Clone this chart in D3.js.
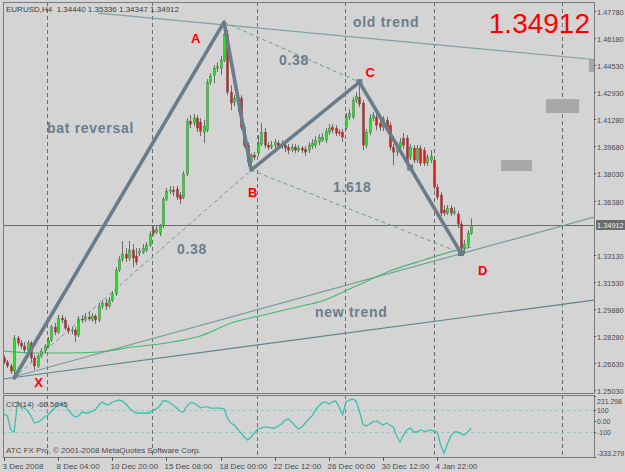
<!DOCTYPE html>
<html><head><meta charset="utf-8">
<script src="https://cdn.jsdelivr.net/npm/d3@7"></script>
<style>
html,body{margin:0;padding:0;background:#d4d4d4;}
svg{display:block;font-family:"Liberation Sans",Arial,sans-serif;}
</style></head><body>
<svg id="chart" width="625" height="472"></svg>
<script>
// ---------------- DATA ----------------
const headerText = "EURUSD,H4  1.34440 1.35336 1.34347 1.34912";
const lastPrice = 1.34912;
const cciLabel = "CCI(14) -66.5645";
const copyrightText = "ATC FX Pro, \u00A9 2001-2008 MetaQuotes Software Corp.";

const opens = [1.2695,1.2671,1.2647,1.2617,1.2815,1.2785,1.2767,1.2743,1.2785,1.2695,
1.2647,1.2707,1.2737,1.2767,1.2803,1.2881,1.2851,1.2935,1.2923,1.2875,
1.2857,1.2863,1.2833,1.2929,1.2923,1.2941,1.2929,1.2947,1.2923,1.3007,
1.3025,1.3007,1.3043,1.3079,1.3223,1.3289,1.3319,1.3295,1.3343,1.3307,
1.3325,1.3331,1.3343,1.3373,1.3463,1.3451,1.3445,1.3487,1.3649,1.3697,
1.3703,1.3709,1.3673,1.3661,1.3799,1.4117,1.4105,1.4135,1.4111,1.4051,
1.4063,1.4351,1.4393,1.4435,1.4435,1.4483,1.4639,1.4291,1.4231,1.4243,
1.4255,1.4081,1.3973,1.3871,1.3913,1.3925,1.3979,1.4051,1.3973,1.3961,
1.3973,1.3985,1.3967,1.3973,1.3961,1.3943,1.3961,1.3943,1.3955,1.3949,
1.3943,1.3967,1.3973,1.3991,1.4003,1.4003,1.4051,1.4081,1.4075,1.4051,
1.4051,1.4081,1.4141,1.4141,1.4243,1.4261,1.4225,1.3973,1.4051,1.4135,
1.4141,1.4105,1.4081,1.4123,1.4093,1.3961,1.3931,1.3961,1.4015,1.4015,
1.3901,1.3955,1.3883,1.3955,1.3943,1.3865,1.3883,1.3883,1.3721,1.3673,
1.3583,1.3565,1.3595,1.3565,1.3559,1.3499,1.3355,1.3373,1.34440];
const highs = [1.2713,1.2683,1.2659,1.2833,1.2827,1.2803,1.2791,1.2803,1.2797,1.2713,
1.2719,1.2755,1.2779,1.2821,1.2893,1.2905,1.2953,1.2953,1.2941,1.2893,
1.2881,1.2881,1.2947,1.2953,1.2965,1.2971,1.2965,1.2959,1.3025,1.3043,
1.3049,1.3061,1.3097,1.3241,1.3307,1.3397,1.3355,1.3397,1.3379,1.3355,
1.3355,1.3379,1.3391,1.3457,1.3487,1.3493,1.3499,1.3661,1.3715,1.3727,
1.3727,1.3727,1.3691,1.3817,1.4135,1.4153,1.4159,1.4153,1.4135,1.4123,
1.4369,1.4405,1.4453,1.4471,1.4507,1.4711,1.4663,1.4333,1.4273,1.4285,
1.4273,1.4099,1.3991,1.3925,1.3931,1.4033,1.4105,1.4075,1.3991,1.3997,
1.4009,1.4003,1.4003,1.3997,1.3979,1.3979,1.3979,1.3973,1.3967,1.3967,
1.3991,1.4009,1.4027,1.4039,1.4045,1.4075,1.4099,1.4099,1.4093,1.4069,
1.4069,1.4165,1.4189,1.4261,1.4291,1.4351,1.4243,1.4069,1.4159,1.4171,
1.4165,1.4123,1.4147,1.4141,1.4111,1.3979,1.3991,1.4015,1.4045,1.4033,
1.3979,1.3973,1.3973,1.3973,1.3961,1.3919,1.3943,1.3901,1.3739,1.3691,
1.3613,1.3613,1.3613,1.3601,1.3577,1.3517,1.3403,1.3463,1.35336];
const lows = [1.2659,1.2635,1.2599,1.2575,1.2767,1.2749,1.2725,1.2731,1.2671,1.2623,
1.2635,1.2695,1.2725,1.2755,1.2791,1.2833,1.2839,1.2905,1.2863,1.2839,
1.2839,1.2791,1.2821,1.2905,1.2911,1.2917,1.2911,1.2899,1.2911,1.2989,
1.2983,1.2995,1.3031,1.3067,1.3211,1.3271,1.3271,1.3277,1.3241,1.3253,
1.3307,1.3319,1.3331,1.3361,1.3427,1.3439,1.3427,1.3475,1.3637,1.3679,
1.3667,1.3643,1.3619,1.3649,1.3787,1.4075,1.4087,1.4051,1.4027,1.3985,
1.4051,1.4333,1.4345,1.4411,1.4393,1.4471,1.4273,1.4183,1.4207,1.4171,
1.4063,1.3955,1.3847,1.3823,1.3883,1.3907,1.3967,1.3955,1.3943,1.3949,
1.3955,1.3949,1.3949,1.3931,1.3919,1.3931,1.3925,1.3931,1.3925,1.3907,
1.3925,1.3949,1.3955,1.3973,1.3991,1.3985,1.4033,1.4045,1.4027,1.4027,
1.3991,1.4063,1.4123,1.4129,1.4225,1.4201,1.3943,1.3955,1.4033,1.4117,
1.4063,1.4057,1.4057,1.4051,1.3943,1.3853,1.3907,1.3943,1.3949,1.3847,
1.3883,1.3865,1.3865,1.3847,1.3847,1.3847,1.3865,1.3703,1.3643,1.3547,
1.3547,1.3553,1.3547,1.3553,1.3475,1.3319,1.3319,1.3355,1.34347];
const closes = [1.2671,1.2647,1.2617,1.2815,1.2785,1.2767,1.2743,1.2785,1.2695,1.2647,
1.2707,1.2737,1.2767,1.2803,1.2881,1.2851,1.2935,1.2923,1.2875,1.2857,
1.2863,1.2833,1.2929,1.2923,1.2941,1.2929,1.2947,1.2923,1.3007,1.3025,
1.3007,1.3043,1.3079,1.3223,1.3289,1.3319,1.3295,1.3343,1.3295,1.3271,
1.3337,1.3355,1.3373,1.3439,1.3445,1.3469,1.3487,1.3649,1.3697,1.3703,
1.3691,1.3661,1.3649,1.3799,1.4117,1.4099,1.4135,1.4075,1.4057,1.4087,
1.4351,1.4387,1.4435,1.4447,1.4483,1.4639,1.4291,1.4225,1.4255,1.4261,
1.4081,1.3973,1.3871,1.3913,1.3901,1.3985,1.4051,1.3973,1.3961,1.3973,
1.3991,1.3967,1.3985,1.3955,1.3943,1.3961,1.3943,1.3955,1.3943,1.3931,
1.3973,1.3985,1.4003,1.4021,1.4021,1.4057,1.4075,1.4063,1.4045,1.4045,
1.4021,1.4141,1.4165,1.4243,1.4267,1.4219,1.3973,1.4051,1.4135,1.4153,
1.4093,1.4081,1.4129,1.4075,1.3961,1.3931,1.3973,1.3991,1.3973,1.3865,
1.3961,1.3883,1.3955,1.3865,1.3865,1.3901,1.3907,1.3721,1.3661,1.3565,
1.3565,1.3595,1.3565,1.3577,1.3499,1.3355,1.3379,1.3445,1.34912];

const cciValues = [65,46,-83,-102,176,148,120,92,46,-19,
-9,9,37,55,92,120,167,157,148,102,
65,37,46,83,74,74,92,102,148,176,
157,148,176,185,194,185,157,120,92,74,
74,74,74,74,102,111,139,185,185,167,
148,120,92,83,139,167,167,148,120,130,
130,120,120,120,120,111,28,-19,-37,-74,
-111,-148,-176,-148,-111,-74,-65,-56,-56,-65,
-65,-46,-28,9,18,-9,-46,-74,-56,-19,
18,46,102,139,167,176,157,176,185,130,
55,176,194,203,185,92,-28,-46,-28,-9,
0,-19,-37,-19,-37,-56,-139,-194,-130,-83,
-65,-102,-102,-83,-93,-93,-83,-93,-102,-222,
-296,-213,-139,-102,-102,-120,-130,-102,-66.5645];

// moving average (sparse read-off points: bar index, price)
const maBars   = [0,9,19,28,38,48,58,68,74,88,94,104,114,124,134,138];
const maPrices = [1.2737,1.2725,1.2725,1.2731,1.2761,1.2785,1.2827,1.2911,1.2941,1.3007,1.3037,1.3127,1.3217,1.3283,1.3343,1.3361];

// harmonic pattern anchors
const patternNames  = ["X","A","B","C","D"];
const patternBars   = [3,65,73,105,135];
const patternPrices = [1.2575,1.4711,1.3823,1.4351,1.3325];

// trend lines (bar, price) pairs
const trendNames = ["old","newUpper","newLower"];
const trendBars  = [[27.8,174.3],[2.7,174.3],[-0.3,174.3]];
const trendPrices= [[1.4765,1.4487],[1.2581,1.3541],[1.2569,1.3043]];

// rectangle objects (bar range, price range)
const rectBars   = [[160.1,169.9],[146.8,156.0],[172.8,176.0]];
const rectPrices = [[1.4249,1.4165],[1.3883,1.3817],[1.4489,1.4411]];

// axes
const priceTicks = [1.47780,1.46180,1.44530,1.42930,1.41280,1.39680,1.38030,1.36380,1.33130,1.31530,1.29880,1.28280,1.26630,1.25030];
const cciTicks = [231.298,100,0,-100,-333.279];
const cciTickLabels = ["231.298","100","0.00","-100","-333.279"];
const timeBars = [0,16,32,48,64,80,96,112,128];
const timeLabels = ["3 Dec 2008","8 Dec 04:00","10 Dec 20:00","15 Dec 08:00","18 Dec 00:00","22 Dec 12:00","26 Dec 00:00","30 Dec 12:00","4 Jan 22:00"];
const gridBars = [12.7,43.7,74.7,100.7,127.0,164.8];

// ---------------- DRAW ----------------
const svg = d3.select("#chart");
const L = 3, R = 594, T = 2, B = 393, CT = 395, CB = 457;
const x = d3.scaleLinear().domain([0,174.3]).range([4,594]);
const y = d3.scaleLinear().domain([1.2503,1.4778]).range([390,11]);
const yc = d3.scaleLinear().domain([-333.279,231.298]).range([457,396]);

svg.append("rect").attr("width",625).attr("height",472).attr("fill","#d4d4d4");

const defs = svg.append("defs");
defs.append("clipPath").attr("id","mainClip").append("rect").attr("x",L).attr("y",T).attr("width",R-L).attr("height",B-T);
defs.append("clipPath").attr("id","cciClip").append("rect").attr("x",L).attr("y",CT).attr("width",R-L).attr("height",CB-CT);

const main = svg.append("g").attr("clip-path","url(#mainClip)");
const cci = svg.append("g").attr("clip-path","url(#cciClip)");

// grid
[[main,T,B],[cci,CT,CB]].forEach(([g,t,b])=>{
  g.selectAll(null).data(gridBars).enter().append("line")
    .attr("x1",d=>Math.round(x(d))+0.5).attr("x2",d=>Math.round(x(d))+0.5)
    .attr("y1",t).attr("y2",b).attr("stroke","#6e6e6e").attr("stroke-width",1)
    .attr("stroke-dasharray","4,3");
});

// rectangles
main.selectAll(null).data(rectBars).enter().append("rect")
  .attr("x",(d)=>x(d[0])).attr("width",d=>x(d[1])-x(d[0]))
  .attr("y",(d,i)=>y(rectPrices[i][0])).attr("height",(d,i)=>y(rectPrices[i][1])-y(rectPrices[i][0]))
  .attr("fill","#a8a8a8");

// current price line
main.append("line").attr("x1",L).attr("x2",R).attr("y1",Math.round(y(lastPrice))+0.5).attr("y2",Math.round(y(lastPrice))+0.5)
  .attr("stroke","#6a6a6a").attr("stroke-width",1);

// trend lines
const trendColors = ["#7fa2a2","#7a9c9c","#5e8686"];
trendBars.forEach((tb,i)=>{
  main.append("line").attr("x1",x(tb[0])).attr("y1",y(trendPrices[i][0]))
    .attr("x2",x(tb[1])).attr("y2",y(trendPrices[i][1]))
    .attr("stroke",trendColors[i]).attr("stroke-width",1.2);
});

// moving average
main.append("path").datum(maBars.map((b,i)=>[b,maPrices[i]]))
  .attr("d",d3.line().x(d=>x(d[0])).y(d=>y(d[1])).curve(d3.curveMonotoneX))
  .attr("fill","none").attr("stroke","#43b86a").attr("stroke-width",1.1);

// dashed fib lines X->B, A->C, B->D
const pt = i=>[x(patternBars[i]),y(patternPrices[i])];
[[0,2],[1,3],[2,4]].forEach(([a,b])=>{
  main.append("line").attr("x1",pt(a)[0]).attr("y1",pt(a)[1]).attr("x2",pt(b)[0]).attr("y2",pt(b)[1])
    .attr("stroke","#6f9a98").attr("stroke-width",1).attr("stroke-dasharray","4,3");
});

// candles
const idx = d3.range(closes.length);
const cg = main.append("g");
cg.selectAll(null).data(idx).enter().append("line")
  .attr("x1",i=>Math.round(x(i))+0.5).attr("x2",i=>Math.round(x(i))+0.5)
  .attr("y1",i=>y(highs[i])).attr("y2",i=>y(lows[i]))
  .attr("stroke","#6c6c6c").attr("stroke-width",1);
cg.selectAll(null).data(idx).enter().append("rect")
  .attr("x",i=>Math.round(x(i))-0.6).attr("width",2.2)
  .attr("y",i=>y(Math.max(opens[i],closes[i])))
  .attr("height",i=>Math.max(1,Math.abs(y(opens[i])-y(closes[i]))))
  .attr("fill",i=>closes[i]>=opens[i]?"#1ee61e":"#e01818")
  .attr("stroke","#5a5a5a").attr("stroke-width",0.4);

// pattern lines
main.append("path").datum(patternBars.map((b,i)=>[b,patternPrices[i]]))
  .attr("d",d3.line().x(d=>x(d[0])).y(d=>y(d[1])))
  .attr("fill","none").attr("stroke","#6a7c8a").attr("stroke-width",3.6)
  .attr("stroke-linejoin","round").attr("stroke-linecap","round");
// handles on C-D line
const c = pt(3), dd = pt(4);
[c,[(c[0]+dd[0])/2,(c[1]+dd[1])/2],dd].forEach(p=>{
  main.append("rect").attr("x",p[0]-3).attr("y",p[1]-3).attr("width",6).attr("height",6).attr("fill","#6a7c8a");
});

// annotation texts
const ann = [["old trend",353,27],["bat reversal",47,133],["new trend",315,317],["0.38",279,65],["1.618",333,192],["0.38",177,254]];
ann.forEach(a=>{
  svg.append("text").attr("x",a[1]).attr("y",a[2]).text(a[0])
    .attr("font-size",14).attr("font-weight","bold").attr("fill","#6b7d8b").attr("letter-spacing",0.7);
});
// pattern letters
const letterOffsets = [[20,9],[-33,21],[-3,27],[6,-5],[17,22]];
patternNames.forEach((n,i)=>{
  const p = pt(i);
  svg.append("text").attr("x",p[0]+letterOffsets[i][0]).attr("y",p[1]+letterOffsets[i][1]).text(n)
    .attr("font-size",13).attr("font-weight","bold").attr("fill","#ff0000");
});

// big price
svg.append("text").attr("x",590).attr("y",33).attr("text-anchor","end").text(lastPrice.toFixed(5))
  .attr("font-size",28).attr("fill","#ff0000");

// header
svg.append("text").attr("x",6).attr("y",12).attr("xml:space","preserve").style("white-space","pre")
  .text(headerText).attr("font-size",8).attr("fill","#3c3c3c");

// CCI panel
cci.selectAll(null).data([100,-100]).enter().append("line")
  .attr("x1",L).attr("x2",R).attr("y1",d=>Math.round(yc(d))+0.5).attr("y2",d=>Math.round(yc(d))+0.5)
  .attr("stroke","#92cbbd").attr("stroke-width",1).attr("stroke-dasharray","3,3");
cci.append("path").datum(cciValues)
  .attr("d",d3.line().x((d,i)=>x(i)).y(d=>yc(d)))
  .attr("fill","none").attr("stroke","#3ebfaf").attr("stroke-width",1.3);
svg.append("text").attr("x",6).attr("y",407).text(cciLabel).attr("font-size",8).attr("fill","#4a4a4a");
svg.append("text").attr("x",6).attr("y",453).text(copyrightText).attr("font-size",8).attr("fill","#4a4a4a");

// panel borders
svg.append("rect").attr("x",L+0.5).attr("y",T+0.5).attr("width",R-L).attr("height",B-T).attr("fill","none").attr("stroke","#7c7c7c");
svg.append("rect").attr("x",L+0.5).attr("y",CT+0.5).attr("width",R-L).attr("height",CB-CT).attr("fill","none").attr("stroke","#7c7c7c");

// price axis
const pa = svg.append("g");
priceTicks.forEach(v=>{
  const yy = Math.round(y(v))+0.5;
  pa.append("line").attr("x1",R).attr("x2",R+2).attr("y1",yy).attr("y2",yy).attr("stroke","#555");
  pa.append("text").attr("x",R+3).attr("y",yy+3).text(v.toFixed(5)).attr("font-size",7.4).attr("fill","#4a4a4a");
});
const ly = Math.round(y(lastPrice));
pa.append("rect").attr("x",R+2).attr("y",ly-5).attr("width",31).attr("height",10).attr("fill","#6c6c6c");
pa.append("text").attr("x",R+3).attr("y",ly+3).text(lastPrice.toFixed(5)).attr("font-size",7.4).attr("fill","#f0f0f0");

// cci axis
cciTicks.forEach((v,i)=>{
  const yy = Math.round(yc(v))+0.5;
  const ty = Math.min(Math.max(yc(v), CT+6), CB-4);
  pa.append("line").attr("x1",R).attr("x2",R+2).attr("y1",yy).attr("y2",yy).attr("stroke","#555");
  pa.append("text").attr("x",R+3).attr("y",ty+3).text(cciTickLabels[i]).attr("font-size",6.9).attr("fill","#4a4a4a");
});

// time axis
timeBars.forEach((b,i)=>{
  const xx = Math.round(x(b))+0.5;
  pa.append("line").attr("x1",xx).attr("x2",xx).attr("y1",CB).attr("y2",CB+4).attr("stroke","#555");
  pa.append("text").attr("x",xx-2).attr("y",469).text(timeLabels[i]).attr("font-size",8).attr("fill","#4a4a4a");
});
</script>
</body></html>
